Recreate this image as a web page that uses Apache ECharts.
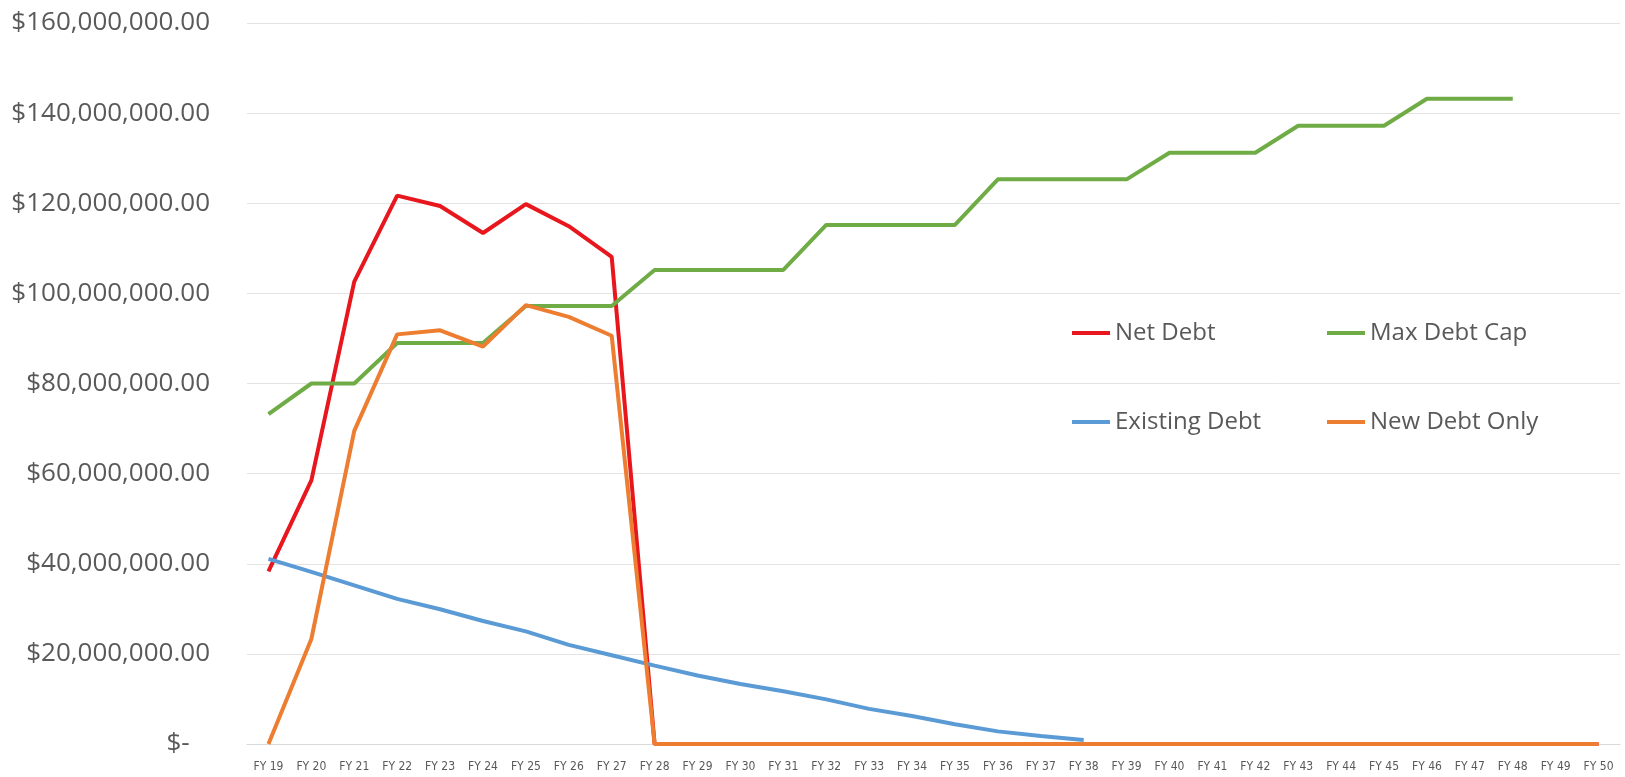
<!DOCTYPE html>
<html>
<head>
<meta charset="utf-8">
<title>Debt chart</title>
<script src="https://cdn.jsdelivr.net/npm/echarts@6/dist/echarts.min.js"></script>
<style>
  html, body { margin: 0; padding: 0; background: #fff; }
  #chart { width: 1625px; height: 777px; }
</style>
</head>
<body>
<div id="chart"></div>
<script>
// fiscal years on the x axis
var years = [];
for (var y = 19; y <= 50; y++) {
  years.push("FY " + y);
}

// values in $ millions
var netDebt = [38.3, 58.5, 102.6, 121.7, 119.4, 113.4, 119.8, 114.9, 108.1, 0,
  0, 0, 0, 0, 0, 0, 0, 0, 0, 0, 0, 0, 0, 0, 0, 0, 0, 0, 0, 0, 0, 0];
var maxDebtCap = [73.2, 80, 80, 89, 89, 89, 97.2, 97.2, 97.2, 105.2,
  105.2, 105.2, 105.2, 115.2, 115.2, 115.2, 115.2, 125.3, 125.3, 125.3,
  125.3, 131.2, 131.2, 131.2, 137.2, 137.2, 137.2, 143.2, 143.2, 143.2, null, null];
var existingDebt = [41.1, 38.2, 35.2, 32.2, 29.9, 27.3, 25.0, 22.0, 19.7, 17.4,
  15.2, 13.3, 11.7, 9.9, 7.8, 6.2, 4.4, 2.8, 1.8, 0.9];
var newDebtOnly = [0, 23.3, 69.5, 90.9, 91.8, 88.2, 97.4, 94.8, 90.6, 0,
  0, 0, 0, 0, 0, 0, 0, 0, 0, 0, 0, 0, 0, 0, 0, 0, 0, 0, 0, 0, 0, 0];

// y axis ticks, $ millions
var yMin = 0;
var yMax = 160;
var yStep = 20;

function toDollars(arr) {
  return arr.map(function (v) {
    return v === null ? null : v * 1000000;
  });
}

function money(value) {
  if (value === 0) {
    return "$-   ";
  }
  return "$" + value.toLocaleString("en-US", {
    minimumFractionDigits: 2,
    maximumFractionDigits: 2
  });
}

var textColor = "#595959";
var font = "'Open Sans', sans-serif";

function legendAt(name, left, top) {
  return {
    data: [name],
    left: left,
    top: top,
    icon: "rect",
    itemWidth: 38,
    itemHeight: 4,
    selectedMode: false,
    textStyle: {
      color: textColor,
      fontFamily: font,
      fontSize: 24,
      lineHeight: 28
    }
  };
}

function lineSeries(name, data, color) {
  return {
    name: name,
    type: "line",
    data: toDollars(data),
    symbol: "none",
    color: color,
    lineStyle: { width: 4, color: color },
    emphasis: { disabled: true }
  };
}

var chart = echarts.init(document.getElementById("chart"));
chart.setOption({
  animation: false,
  grid: {
    left: 247,
    right: 5,
    top: 23,
    bottom: 33
  },
  legend: [
    legendAt("Net Debt", 1067, 314),
    legendAt("Max Debt Cap", 1322, 314),
    legendAt("Existing Debt", 1067, 403),
    legendAt("New Debt Only", 1322, 403)
  ],
  xAxis: {
    type: "category",
    boundaryGap: true,
    data: years,
    axisTick: { show: false },
    axisLine: {
      lineStyle: { color: "#d9d9d9", width: 1 }
    },
    axisLabel: {
      interval: 0,
      margin: 17,
      color: textColor,
      fontFamily: "'DejaVu Sans Condensed', 'DejaVu Sans', sans-serif",
      fontSize: 12
    }
  },
  yAxis: {
    type: "value",
    min: yMin * 1000000,
    max: yMax * 1000000,
    interval: yStep * 1000000,
    axisLine: { show: false },
    axisTick: { show: false },
    splitLine: {
      lineStyle: { color: "#e3e3e3", width: 1 }
    },
    axisLabel: {
      margin: 37,
      color: textColor,
      fontFamily: font,
      fontSize: 26,
      formatter: money
    }
  },
  series: [
    lineSeries("Net Debt", netDebt, "#e8161d"),
    lineSeries("Max Debt Cap", maxDebtCap, "#6fac46"),
    lineSeries("Existing Debt", existingDebt, "#5b9bd5"),
    lineSeries("New Debt Only", newDebtOnly, "#ed7d31")
  ]
});
</script>
</body>
</html>
